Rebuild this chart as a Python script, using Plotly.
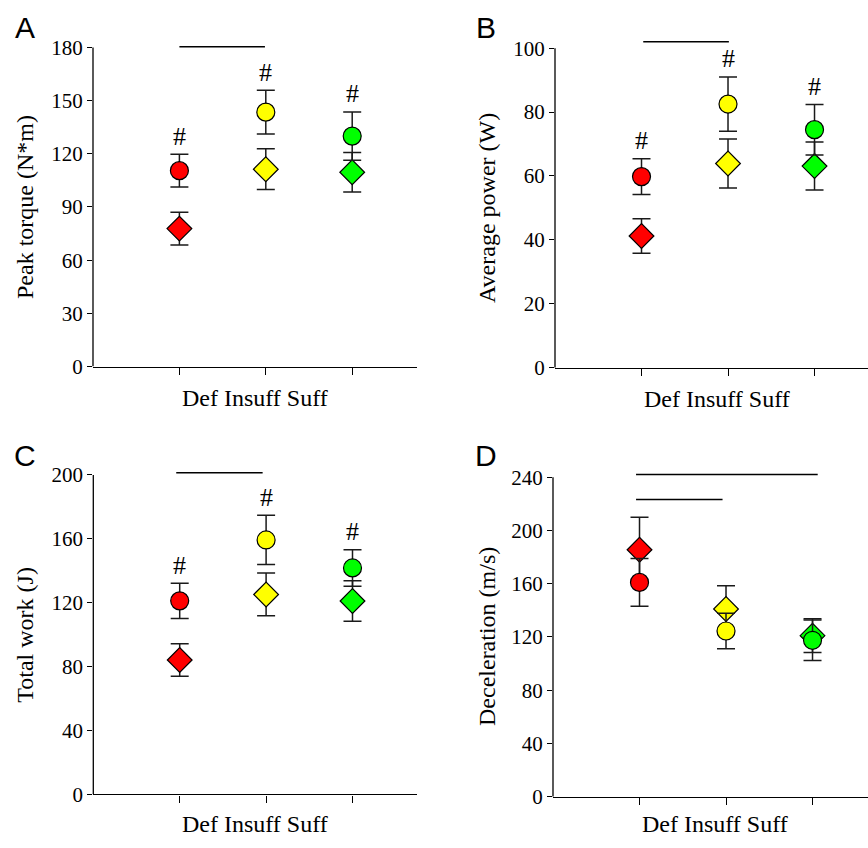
import plotly.graph_objects as go

W, H = 868, 848

categories = ["Def", "Insuff", "Suff"]
cat_pos = [1, 2, 3]
group_colors = ["#FF0000", "#FFFF00", "#00FF00"]
x_title = "Def Insuff Suff"

# Panel A - Peak torque (N*m)
torque_circle = [110.5, 143.5, 130.0]
torque_circle_err = [9.2, 12.3, 13.6]
torque_diamond = [77.8, 111.3, 109.6]
torque_diamond_err = [9.3, 11.5, 11.1]
torque_sig = [(1.0, 1.99, 180.4)]

# Panel B - Average power (W)
power_circle = [59.8, 82.5, 74.5]
power_circle_err = [5.6, 8.5, 7.9]
power_diamond = [41.2, 63.9, 63.1]
power_diamond_err = [5.4, 7.7, 7.5]
power_sig = [(1.02, 2.01, 102.0)]

# Panel C - Total work (J)
work_circle = [121.2, 159.3, 141.8]
work_circle_err = [11.0, 15.4, 11.4]
work_diamond = [84.2, 125.2, 121.1]
work_diamond_err = [10.2, 13.4, 12.6]
work_sig = [(0.96, 1.96, 201.3)]

# Panel D - Deceleration (m/s)
decel_circle = [161.0, 124.5, 117.5]
decel_circle_err = [18.0, 13.4, 15.2]
decel_diamond = [185.5, 141.0, 121.0]
decel_diamond_err = [24.5, 17.4, 12.7]
decel_sig = [(0.96, 3.06, 242.0), (0.96, 1.96, 223.3)]

# box = (left px, right px of full axis, top px of axis max, bottom px of zero)
panels = [
    dict(letter="A", ytitle="Peak torque (N*m)", ymax=180, dtick=30, yext=185,
         circ=torque_circle, circ_err=torque_circle_err,
         dia=torque_diamond, dia_err=torque_diamond_err, sig=torque_sig, hashes=True,
         box=(93, 417, 44.3, 369.5), xmax=3.75,
         letter_xy=(25, 24), ytitle_x=25, xtitle_y=402),
    dict(letter="B", ytitle="Average power (W)", ymax=100, dtick=20, yext=104,
         circ=power_circle, circ_err=power_circle_err,
         dia=power_diamond, dia_err=power_diamond_err, sig=power_sig, hashes=True,
         box=(555, 879.4, 45, 370.7), xmax=3.75,
         letter_xy=(486, 24), ytitle_x=487, xtitle_y=403),
    dict(letter="C", ytitle="Total work (J)", ymax=200, dtick=40, yext=205,
         circ=work_circle, circ_err=work_circle_err,
         dia=work_diamond, dia_err=work_diamond_err, sig=work_sig, hashes=True,
         box=(93.3, 417.3, 480, 805.7), xmax=3.75,
         letter_xy=(25, 460), ytitle_x=25, xtitle_y=836),
    dict(letter="D", ytitle="Deceleration (m/s)", ymax=240, dtick=40, yext=246,
         circ=decel_circle, circ_err=decel_circle_err,
         dia=decel_diamond, dia_err=decel_diamond_err, sig=decel_sig, hashes=False,
         box=(553, 877.4, 482.3, 808), xmax=3.75,
         letter_xy=(486, 460), ytitle_x=487, xtitle_y=836),
]

SERIF = "Liberation Serif"
SANS = "Liberation Sans"


def px(xp):
    return xp / W


def py(yp):
    return 1 - yp / H


fig = go.Figure()
annotations = []
shapes = []
layout_axes = {}

for i, p in enumerate(panels):
    n = "" if i == 0 else str(i + 1)
    xid, yid = "x" + n, "y" + n
    x0, x1, ytop, ybot = p["box"]
    x1v = min(x1, W)
    xmax_vis = p["xmax"] * (x1v - x0) / (x1 - x0)
    ppu = (ybot - ytop) / p["ymax"]
    ytop_ext = ybot - p["yext"] * ppu
    dom_x = [px(x0), min(px(x1v), 1.0)]
    dom_y = [py(ybot), py(ytop_ext)]

    err_style = dict(type="data", visible=True, color="#1a1a1a", thickness=1.5, width=9)
    fig.add_trace(go.Scatter(
        x=cat_pos, y=p["dia"], mode="markers", xaxis=xid, yaxis=yid,
        marker=dict(symbol="diamond", size=19, color=group_colors,
                    line=dict(color="black", width=1.2)),
        error_y=dict(array=p["dia_err"], **err_style),
        showlegend=False, cliponaxis=False, hoverinfo="skip"))
    fig.add_trace(go.Scatter(
        x=cat_pos, y=p["circ"], mode="markers", xaxis=xid, yaxis=yid,
        marker=dict(symbol="circle", size=18, color=group_colors,
                    line=dict(color="black", width=1.2)),
        error_y=dict(array=p["circ_err"], **err_style),
        showlegend=False, cliponaxis=False, hoverinfo="skip"))

    tickvals = list(range(0, p["ymax"] + 1, p["dtick"]))
    layout_axes["xaxis" + n] = dict(
        domain=dom_x, range=[0, xmax_vis], anchor=yid,
        showline=True, linecolor="black", linewidth=1.3,
        ticks="outside", ticklen=7, tickwidth=1.3, tickcolor="black",
        tickvals=cat_pos, showticklabels=False, showgrid=False, zeroline=False,
        fixedrange=True)
    layout_axes["yaxis" + n] = dict(
        domain=dom_y, range=[0, p["yext"]], anchor=xid,
        showline=False,
        ticks="outside", ticklen=5, tickwidth=1.3, tickcolor="black",
        tickvals=tickvals, showgrid=False, zeroline=False,
        tickfont=dict(family=SERIF, size=21, color="black"),
        fixedrange=True)

    # y axis line, only up to the axis maximum
    shapes.append(dict(type="line", xref=xid + " domain", yref=yid,
                       x0=0, x1=0, y0=0, y1=p["ymax"],
                       line=dict(color="black", width=1.3), layer="above"))

    # significance bars
    for (sx0, sx1, sy) in p["sig"]:
        shapes.append(dict(type="line", xref=xid, yref=yid,
                           x0=sx0, x1=sx1, y0=sy, y1=sy,
                           line=dict(color="black", width=1.5), layer="above"))

    if p["hashes"]:
        for xp, m, e in zip(cat_pos, p["circ"], p["circ_err"]):
            annotations.append(dict(
                xref=xid, yref=yid, x=xp, y=m + e, text="#", showarrow=False,
                yanchor="middle", xanchor="center", yshift=18,
                font=dict(family=SERIF, size=26, color="black")))

    lx, ly = p["letter_xy"]
    annotations.append(dict(
        xref="paper", yref="paper", x=px(lx), y=py(ly), text=p["letter"],
        showarrow=False, xanchor="center", yanchor="middle",
        font=dict(family=SANS, size=30, color="black")))
    annotations.append(dict(
        xref="paper", yref="paper", x=px(p["ytitle_x"]), y=py((ytop + ybot) / 2),
        text=p["ytitle"], textangle=-90, showarrow=False,
        xanchor="center", yanchor="middle",
        font=dict(family=SERIF, size=24, color="black")))
    annotations.append(dict(
        xref="paper", yref="paper", x=px((x0 + x1) / 2),
        y=py(p["xtitle_y"]), text=x_title, showarrow=False,
        xanchor="center", yanchor="middle",
        font=dict(family=SERIF, size=24, color="black")))

fig.update_layout(
    width=W, height=H,
    margin=dict(l=0, r=0, t=0, b=0),
    paper_bgcolor="white", plot_bgcolor="white",
    showlegend=False,
    font=dict(family=SERIF, color="black"),
    annotations=annotations,
    shapes=shapes,
    **layout_axes)

fig.write_html(
    "out.html",
    config={"displayModeBar": False},
    post_script="document.body.style.margin='0';document.body.style.overflow='hidden';",
)
